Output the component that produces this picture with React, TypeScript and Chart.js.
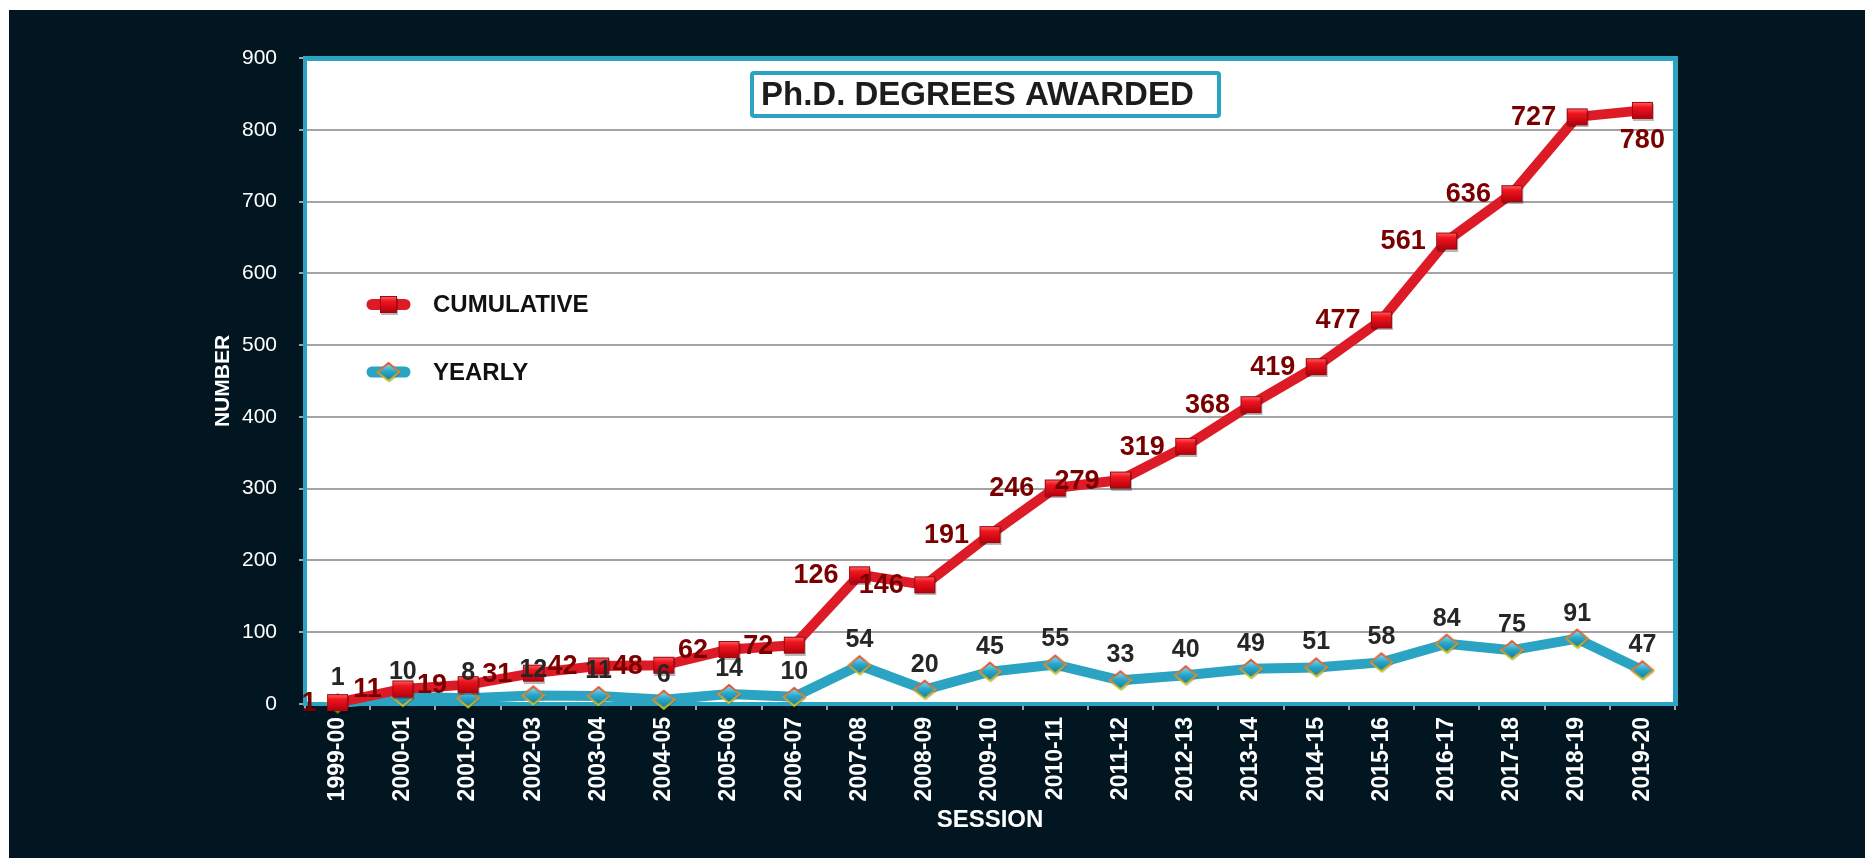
import React, { useEffect, useRef } from 'react';
import { Chart, registerables } from 'chart.js';

Chart.register(...registerables);

// ---- data ----
const SESSIONS = [
  '1999-00', '2000-01', '2001-02', '2002-03', '2003-04', '2004-05', '2005-06',
  '2006-07', '2007-08', '2008-09', '2009-10', '2010-11', '2011-12', '2012-13',
  '2013-14', '2014-15', '2015-16', '2016-17', '2017-18', '2018-19', '2019-20',
];
const YEARLY = [1, 10, 8, 12, 11, 6, 14, 10, 54, 20, 45, 55, 33, 40, 49, 51, 58, 84, 75, 91, 47];
const CUMULATIVE = [1, 11, 19, 31, 42, 48, 62, 72, 126, 146, 191, 246, 279, 319, 368, 419, 477, 561, 636, 727, 780];
const Y_MIN = 0;
const Y_MAX = 900;
const Y_STEP = 100;
const CHART_TITLE = 'Ph.D. DEGREES AWARDED';
const X_TITLE = 'SESSION';
const Y_TITLE = 'NUMBER';
const LEGEND_LABELS = ['CUMULATIVE', 'YEARLY'];

// ---- style ----
const BG = '#011621';
const RED = '#DC1B26';
const TEAL = '#2BA3C2';
const GRID = '#A3A3A3';
const FONT = '"Liberation Sans", Arial, Helvetica, sans-serif';
const W = 1856;
const H = 848;

function makeSquare(w = 21, h = 17): HTMLCanvasElement {
  const c = document.createElement('canvas');
  c.width = w + 4;
  c.height = h + 4;
  const ctx = c.getContext('2d')!;
  ctx.fillStyle = 'rgba(0,0,0,0.28)';
  ctx.fillRect(3, 4, w, h);
  const g = ctx.createLinearGradient(0, 2, 0, 2 + h);
  g.addColorStop(0, '#ff6a6a');
  g.addColorStop(0.3, '#f0161f');
  g.addColorStop(1, '#b3000c');
  ctx.fillStyle = g;
  ctx.fillRect(2, 2, w, h);
  ctx.strokeStyle = '#9a0a10';
  ctx.lineWidth = 1;
  ctx.strokeRect(2.5, 2.5, w - 1, h - 1);
  return c;
}

function makeDiamond(w = 22, h = 18): HTMLCanvasElement {
  const c = document.createElement('canvas');
  c.width = w + 4;
  c.height = h + 4;
  const ctx = c.getContext('2d')!;
  const cx = c.width / 2;
  const cy = c.height / 2;
  const path = (dx: number, dy: number) => {
    ctx.beginPath();
    ctx.moveTo(cx + dx, cy - h / 2 + dy);
    ctx.lineTo(cx + w / 2 + dx, cy + dy);
    ctx.lineTo(cx + dx, cy + h / 2 + dy);
    ctx.lineTo(cx - w / 2 + dx, cy + dy);
    ctx.closePath();
  };
  path(1, 1.5);
  ctx.fillStyle = 'rgba(0,0,0,0.25)';
  ctx.fill();
  path(0, 0);
  const g = ctx.createLinearGradient(0, cy - h / 2, 0, cy + h / 2);
  g.addColorStop(0, '#8ae4f7');
  g.addColorStop(0.45, '#2aa8cc');
  g.addColorStop(1, '#137b9c');
  ctx.fillStyle = g;
  ctx.fill();
  const s = ctx.createLinearGradient(0, cy - h / 2, 0, cy + h / 2);
  s.addColorStop(0, '#e2452c');
  s.addColorStop(0.5, '#e08a2a');
  s.addColorStop(1, '#c9cf1e');
  ctx.strokeStyle = s;
  ctx.lineWidth = 1.8;
  ctx.stroke();
  return c;
}

export default function App() {
  const ref = useRef<HTMLCanvasElement>(null);

  useEffect(() => {
    document.body.style.overflow = 'hidden';
    const canvas = ref.current!;
    const square = makeSquare();
    const diamond = makeDiamond();
    const legendSquare = makeSquare(17, 17);

    const decor = {
      id: 'decor',
      beforeDraw(chart: any) {
        const { ctx, chartArea: a } = chart;
        ctx.save();
        ctx.fillStyle = '#ffffff';
        ctx.fillRect(a.left, a.top, a.right - a.left, a.bottom - a.top);
        ctx.restore();
      },
      beforeDatasetsDraw(chart: any) {
        const { ctx, chartArea: a } = chart;
        ctx.save();
        ctx.fillStyle = TEAL;
        ctx.fillRect(a.left - 2, a.top - 2, a.right - a.left + 5, 5);
        ctx.fillRect(a.right - 2, a.top - 2, 5, a.bottom - a.top + 4);
        ctx.fillRect(a.left - 2, a.top - 2, 4, a.bottom - a.top + 4);
        ctx.fillRect(a.left - 2, a.bottom - 2, a.right - a.left + 5, 4);

        // title box
        const bx = 741, by = 61, bw = 471, bh = 47;
        ctx.fillStyle = '#ffffff';
        ctx.fillRect(bx, by, bw, bh);
        ctx.strokeStyle = TEAL;
        ctx.lineWidth = 4;
        ctx.beginPath();
        (ctx as any).roundRect ? (ctx as any).roundRect(bx + 2, by + 2, bw - 4, bh - 4, 2) : ctx.rect(bx + 2, by + 2, bw - 4, bh - 4);
        ctx.stroke();
        ctx.fillStyle = '#1c1c1c';
        ctx.font = `bold 33px ${FONT}`;
        ctx.textAlign = 'left';
        ctx.textBaseline = 'middle';
        ctx.fillText(CHART_TITLE, bx + 11, by + 25);

        // legend
        const items = [
          { label: LEGEND_LABELS[0], color: RED, img: legendSquare, y: 294.5 },
          { label: LEGEND_LABELS[1], color: TEAL, img: diamond, y: 362 },
        ];
        for (const it of items) {
          ctx.strokeStyle = it.color;
          ctx.lineWidth = 11;
          ctx.lineCap = 'round';
          ctx.beginPath();
          ctx.moveTo(363, it.y);
          ctx.lineTo(396, it.y);
          ctx.stroke();
          ctx.drawImage(it.img, 379.5 - it.img.width / 2, it.y - it.img.height / 2);
          ctx.fillStyle = '#111111';
          ctx.font = `bold 24px ${FONT}`;
          ctx.textAlign = 'left';
          ctx.textBaseline = 'middle';
          ctx.fillText(it.label, 424, it.y + 1);
        }
        ctx.restore();
      },
      beforeDatasetDraw(_chart: any, args: any) {
        if (args.index === 1) return false;
        return true;
      },
      afterDatasetsDraw(chart: any) {
        const { ctx } = chart;
        const metaC = chart.getDatasetMeta(1);
        ctx.save();
        metaC.controller.draw();
        ctx.restore();

        const metaY = chart.getDatasetMeta(0);
        ctx.save();
        ctx.textBaseline = 'middle';
        ctx.font = `bold 25px ${FONT}`;
        ctx.fillStyle = '#262626';
        ctx.textAlign = 'center';
        metaY.data.forEach((p: any, i: number) => {
          ctx.fillText(String(YEARLY[i]), p.x, p.y - 25);
        });
        ctx.font = `bold 27px ${FONT}`;
        ctx.fillStyle = '#7A0000';
        metaC.data.forEach((p: any, i: number) => {
          if (i === metaC.data.length - 1) {
            ctx.textAlign = 'center';
            ctx.fillText(String(CUMULATIVE[i]), p.x, p.y + 30);
          } else {
            ctx.textAlign = 'right';
            ctx.fillText(String(CUMULATIVE[i]), p.x - 21, p.y + 1);
          }
        });
        ctx.restore();
      },
    };

    const chart = new Chart(canvas, {
      type: 'line',
      data: {
        labels: SESSIONS,
        datasets: [
          {
            label: LEGEND_LABELS[1],
            data: YEARLY,
            borderColor: TEAL,
            backgroundColor: TEAL,
            borderWidth: 10,
            borderJoinStyle: 'round',
            pointStyle: diamond as any,
            pointRadius: 10,
            tension: 0,
            fill: false,
            clip: false as any,
          },
          {
            label: LEGEND_LABELS[0],
            data: CUMULATIVE,
            borderColor: RED,
            backgroundColor: RED,
            borderWidth: 10,
            borderJoinStyle: 'round',
            pointStyle: square as any,
            pointRadius: 10,
            tension: 0,
            fill: false,
            clip: false as any,
          },
        ],
      },
      options: {
        responsive: false,
        animation: false,
        devicePixelRatio: 1,
        layout: { padding: { left: 0, right: 190, top: 48, bottom: 0 } },
        plugins: {
          legend: { display: false },
          tooltip: { enabled: false },
        },
        scales: {
          x: {
            offset: true,
            grid: {
              offset: true,
              drawOnChartArea: false,
              drawTicks: true,
              tickLength: 6,
              color: GRID,
              lineWidth: 2,
            },
            border: { display: false },
            ticks: {
              color: '#ffffff',
              font: { family: FONT, size: 23, weight: 'bold' },
              minRotation: 90,
              maxRotation: 90,
              padding: 7,
              autoSkip: false,
            },
            title: {
              display: true,
              text: X_TITLE,
              color: '#ffffff',
              font: { family: FONT, size: 24, weight: 'bold', lineHeight: 1.2 },
              padding: { top: 0, bottom: 23 },
            },
            afterFit: (s: any) => {
              s.height = 154;
            },
          },
          y: {
            stacked: true,
            min: Y_MIN,
            max: Y_MAX,
            grid: {
              drawOnChartArea: true,
              drawTicks: true,
              tickLength: 6,
              color: GRID,
              lineWidth: 2,
            },
            border: { display: false },
            ticks: {
              stepSize: Y_STEP,
              color: '#ffffff',
              font: { family: FONT, size: 21 },
              padding: 22,
            },
            title: {
              display: true,
              text: Y_TITLE,
              color: '#ffffff',
              font: { family: FONT, size: 21, weight: 'bold', lineHeight: 1.2 },
              padding: { top: 202, bottom: 0 },
            },
            afterFit: (s: any) => {
              s.width = 296;
            },
          },
        },
      } as any,
      plugins: [decor as any],
    });

    return () => chart.destroy();
  }, []);

  return (
    <div
      style={{
        position: 'absolute',
        left: 9,
        top: 10,
        width: W,
        height: H,
        background: BG,
        overflow: 'hidden',
      }}
    >
      <canvas ref={ref} width={W} height={H} style={{ display: 'block', width: W, height: H }} />
    </div>
  );
}
